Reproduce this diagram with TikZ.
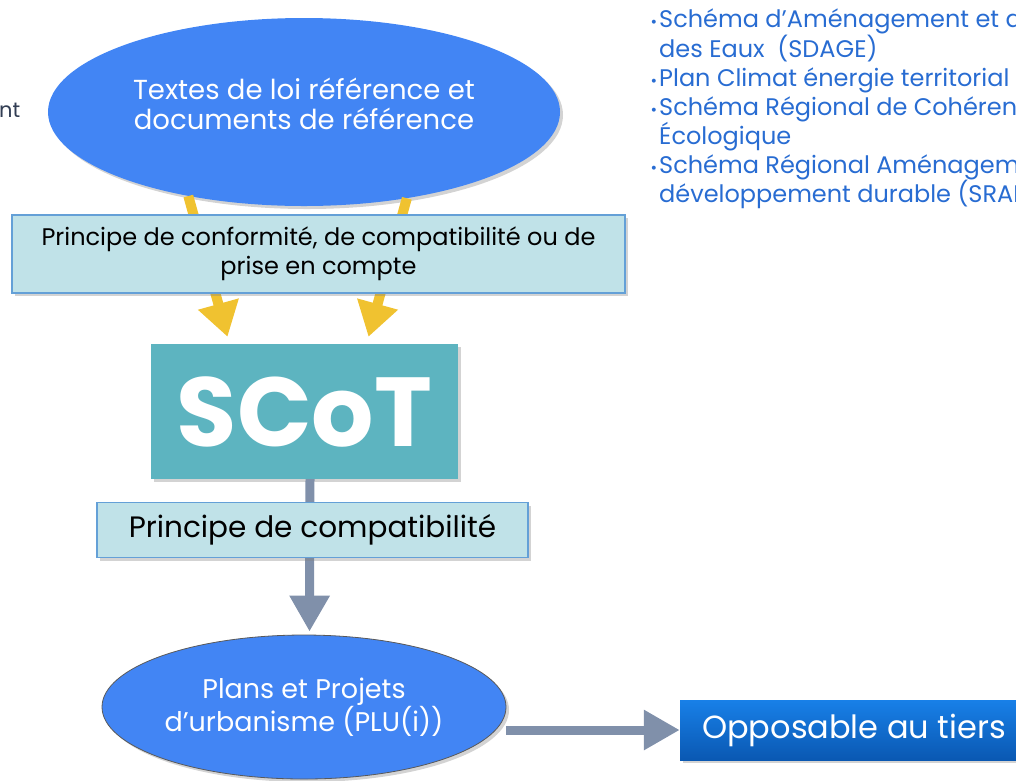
\documentclass[tikz,border=0pt]{standalone}
\usepackage{fontspec}
\setmainfont{Poppins}
\usetikzlibrary{arrows.meta,shapes.geometric,shadows,calc}

\definecolor{refblue}{RGB}{66,133,244}
\definecolor{boxfill}{RGB}{192,226,232}
\definecolor{boxline}{RGB}{100,160,215}
\definecolor{scotteal}{RGB}{93,180,192}
\definecolor{arrowyellow}{RGB}{240,194,48}
\definecolor{arrowgray}{RGB}{128,144,170}
\definecolor{opptop}{RGB}{24,128,232}
\definecolor{oppbottom}{RGB}{10,88,178}
\definecolor{listblue}{RGB}{40,108,210}
\definecolor{darktext}{RGB}{50,62,84}

\newcommand{\docbullet}{\llap{\fontsize{16}{16}\selectfont\textbullet\hspace{2pt}}}

\begin{document}
\begin{tikzpicture}
  [x=1pt,y=-1pt,inner sep=0pt,
   softshadow/.style={drop shadow={opacity=0.35,shadow xshift=3pt,shadow yshift=-3pt}},
   bubble/.style={ellipse,fill=refblue,text=white,align=center,softshadow},
   rulebox/.style={rectangle,fill=boxfill,draw=boxline,line width=1.5pt,align=center,softshadow},
   yellowarrow/.style={draw=arrowyellow,line width=10pt,-{Triangle[width=40pt,length=34pt]}},
   grayarrow/.style={draw=arrowgray,line width=9pt,-{Triangle[width=38pt,length=36pt]}}]
  \useasboundingbox (0,0) rectangle (1016,780);
  \clip (0,0) rectangle (1016,780);

  \node[bubble,minimum width=512pt,minimum height=188pt,text depth=16pt,
        font=\fontsize{27.5}{30}\selectfont] (ref) at (304,112)
        {Textes de loi référence et\\documents de référence};
  \node[rectangle,fill=scotteal,text=white,minimum width=307pt,minimum height=135pt,
        font=\fontsize{98}{98}\selectfont\bfseries,softshadow] (scot) at (304.5,411.5) {SCoT};

  \draw[yellowarrow] (ref.216) -- ($(scot.north)+(-77,-7)$);
  \draw[yellowarrow] (ref.320) -- ($(scot.north)+(64,-7)$);

  \node[rulebox,minimum width=613pt,minimum height=78pt,
        font=\fontsize{24}{29}\selectfont] (conf) at (318.5,254)
        {Principe de conformité, de compatibilité ou de\\prise en compte};

  \node[bubble,draw=black!65,line width=0.8pt,minimum width=404pt,minimum height=144pt,
        font=\fontsize{27}{30}\selectfont] (plu) at (304,707)
        {Plans et Projets\\d’urbanisme (PLU(i))};

  \draw[grayarrow] ([xshift=5.5pt]scot.south) -- ([xshift=5.5pt,yshift=3pt]plu.north);

  \node[rulebox,minimum width=431pt,minimum height=55pt,
        font=\fontsize{29.5}{32}\selectfont] (compat) at (312.5,530) {Principe de compatibilité};

  \node[rectangle,top color=opptop,bottom color=oppbottom,text=white,
        minimum width=348pt,minimum height=60pt,softshadow,
        font=\fontsize{32}{36}\selectfont] (opp) at (854,730) {Opposable au tiers};

  \draw[grayarrow] (plu.east |- opp.west) -- (opp.west);

  % liste des documents de reference
  \node[anchor=north west,align=left,text=listblue,
        font=\fontsize{24}{28.8}\selectfont] (docs) at (659,9)
        {\docbullet Schéma d’Aménagement et de Gestion\\
         des Eaux\ \ (SDAGE)\\
         \docbullet Plan Climat énergie territorial\\
         \docbullet Schéma Régional de Cohérence\\
         Écologique\\
         \docbullet Schéma Régional Aménagement et\\
         développement durable (SRADDET)};

  \node[anchor=base west,text=darktext,font=\fontsize{21}{24}\selectfont] (cut) at (-1,117) {nt};
\end{tikzpicture}
\end{document}
